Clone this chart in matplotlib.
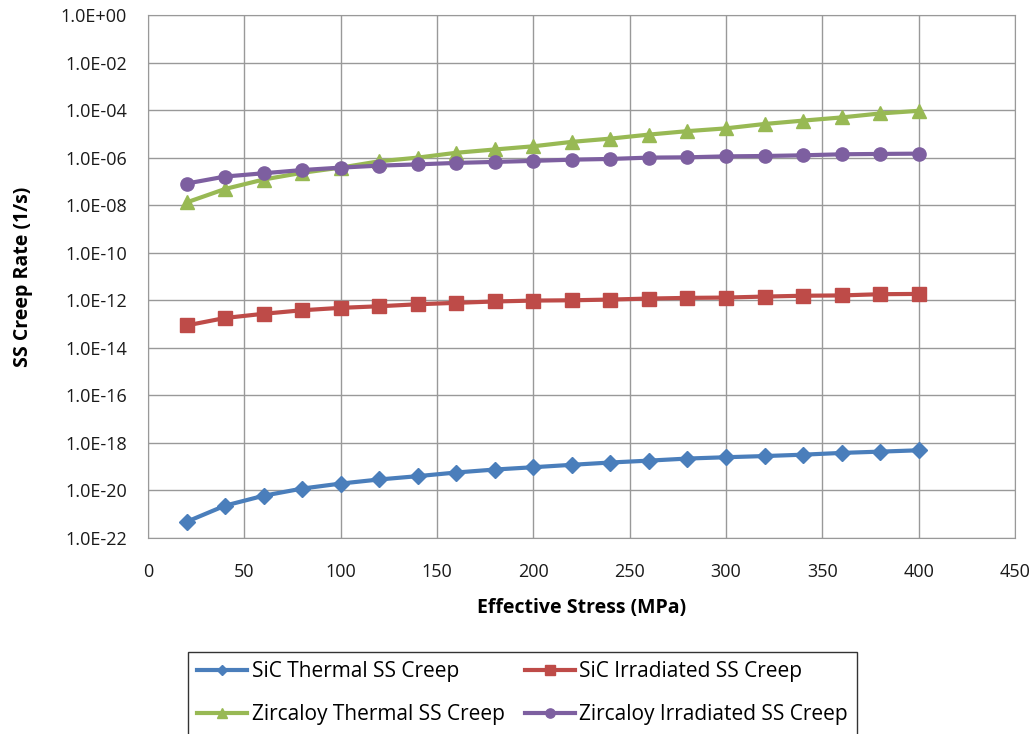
import numpy as np
import matplotlib
matplotlib.use('Agg')
import matplotlib.pyplot as plt
from matplotlib.ticker import FuncFormatter, FixedLocator

# --- data ---
stress = [20, 40, 60, 80, 100, 120, 140, 160, 180, 200,
          220, 240, 260, 280, 300, 320, 340, 360, 380, 400]

sic_thermal = [4.8e-22, 2.3e-21, 6.0e-21, 1.2e-20, 1.95e-20, 2.9e-20, 4.0e-20, 5.7e-20, 7.6e-20, 9.5e-20,
               1.2e-19, 1.5e-19, 1.8e-19, 2.2e-19, 2.5e-19, 2.8e-19, 3.2e-19, 3.8e-19, 4.3e-19, 4.9e-19]
sic_irrad = [8.7e-14, 1.8e-13, 2.7e-13, 3.8e-13, 4.8e-13, 5.6e-13, 6.8e-13, 7.8e-13, 8.9e-13, 9.7e-13,
             1.0e-12, 1.07e-12, 1.18e-12, 1.26e-12, 1.3e-12, 1.43e-12, 1.55e-12, 1.6e-12, 1.8e-12, 1.85e-12]
zr_thermal = [1.3e-8, 4.8e-8, 1.2e-7, 2.3e-7, 3.8e-7, 7.0e-7, 1.0e-6, 1.6e-6, 2.2e-6, 3.0e-6,
              4.6e-6, 6.3e-6, 9.3e-6, 1.3e-5, 1.7e-5, 2.6e-5, 3.6e-5, 4.9e-5, 7.2e-5, 9.3e-5]
zr_irrad = [8.1e-8, 1.6e-7, 2.2e-7, 3.0e-7, 3.8e-7, 4.6e-7, 5.2e-7, 6.0e-7, 6.6e-7, 7.3e-7,
            8.2e-7, 8.8e-7, 1.0e-6, 1.03e-6, 1.13e-6, 1.17e-6, 1.25e-6, 1.38e-6, 1.43e-6, 1.47e-6]

labels = ["SiC Thermal SS Creep", "SiC Irradiated SS Creep",
          "Zircaloy Thermal SS Creep", "Zircaloy Irradiated SS Creep"]

plt.rcParams['font.family'] = ['Open Sans', 'DejaVu Sans']

fig = plt.figure(figsize=(10.32, 7.34), dpi=100)
ax = fig.add_axes([0.1434, 0.267, 0.8401, 0.7126])

l1, = ax.plot(stress, sic_thermal, color='#4A7EBB', lw=3, marker='D', ms=8, label=labels[0])
l2, = ax.plot(stress, sic_irrad, color='#BE4B48', lw=3, marker='s', ms=10, label=labels[1])
l3, = ax.plot(stress, zr_thermal, color='#98B954', lw=3, marker='^', ms=10, label=labels[2])
l4, = ax.plot(stress, zr_irrad, color='#7D5FA0', lw=3, marker='o', ms=9.5, label=labels[3])

ax.set_yscale('log')
ax.set_ylim(1e-22, 1e0)
ax.set_xlim(0, 450)
ax.set_xticks(np.arange(0, 451, 50))
ax.yaxis.set_major_locator(FixedLocator([10.0 ** e for e in range(-22, 1, 2)]))
ax.yaxis.set_minor_locator(FixedLocator([]))
ax.yaxis.set_major_formatter(FuncFormatter(lambda v, p: f"{v:.1E}"))

ax.grid(True, color='#999999', lw=1)
ax.set_axisbelow(True)
for s in ax.spines.values():
    s.set_color('#999999')
ax.tick_params(axis='both', labelsize=13, length=0, colors='#1a1a1a')
ax.tick_params(axis='y', pad=15)
ax.tick_params(axis='x', pad=18)

ax.set_xlabel("Effective Stress (MPa)", fontsize=14, fontweight='bold', labelpad=12)
ax.set_ylabel("SS Creep Rate (1/s)", fontsize=14, fontweight='bold', labelpad=20)

# order so that rows read SiC / Zircaloy like the original
leg = fig.legend([l1, l3, l2, l4], [labels[0], labels[2], labels[1], labels[3]],
                 loc='upper left', bbox_to_anchor=(0.1822, 0.1117), ncol=2,
                 fontsize=15, frameon=True, fancybox=False, edgecolor='black',
                 markerscale=0.7, handlelength=2.4, handletextpad=0.2,
                 columnspacing=1.0, labelspacing=1.05, borderpad=0.45,
                 borderaxespad=0)
leg.get_frame().set_linewidth(1)

fig.savefig("out.png", dpi=100)
